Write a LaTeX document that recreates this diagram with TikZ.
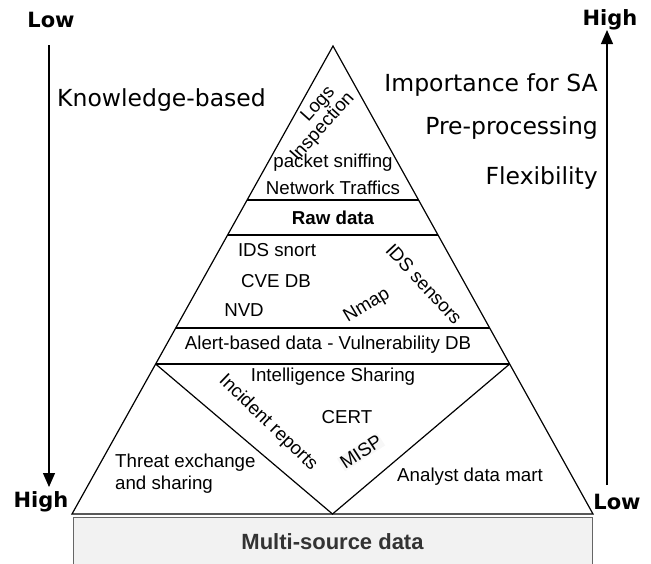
\documentclass[tikz,border=0pt]{standalone}
\usepackage{fontspec}
\setmainfont{Liberation Sans}
\newfontfamily\verd{DejaVu Sans}
\usetikzlibrary{positioning}
\usetikzlibrary{arrows.meta}
\usetikzlibrary{calc}
\tikzstyle{layer}=[font=\fontsize{18.7}{18.5}\selectfont,inner sep=0pt]
\tikzstyle{side}=[font=\verd\fontsize{23.5}{26}\selectfont,inner sep=0pt]
\tikzstyle{grade}=[font=\verd\bfseries\fontsize{21}{24}\selectfont,inner sep=0pt]
\tikzstyle{edge} = [draw,line width=1.2pt]
\tikzstyle{axisarrow} = [draw,line width=1.2pt,-{Triangle[length=14pt,width=12pt]}]

\begin{document}
\begin{tikzpicture}[x=1pt,y=-1pt]
  \useasboundingbox (0,0) rectangle (651,563);

  \def\ytop{46};
  \def\ybase{514};

  % base of the pyramid
  \node[draw=black!60, fill=black!5, line width=1pt, minimum width=519pt, minimum height=50pt, inner sep=0pt,
        font=\bfseries\fontsize{22}{24}\selectfont, text=black!80] (msd) at (332.5,542) {Multi-source data};

  % pyramid
  \coordinate (apex) at (333,\ytop);
  \coordinate (bl) at (72,\ybase);
  \coordinate (br) at (593,\ybase);
  \draw[edge] (apex) -- (bl) -- (br) -- cycle;

  \foreach \t/\name in {0.3291/l1, 0.4038/l2, 0.6026/l3, 0.6795/l4}
         \draw[edge] ($(apex)!\t!(bl)$) coordinate (\name a) -- ($(apex)!\t!(br)$) coordinate (\name b);

  \coordinate (bm) at ($(bl)!0.5!(br)$);
  \draw[edge] (l4a) -- (bm) -- (l4b);

  % texts in the layers
   \foreach \x/\y/\name/\label in {333/163/sniff/packet sniffing, 333/188/traffic/Network Traffics, 277/250/snort/IDS snort,
          276/281/cve/CVE DB, 244/310/nvd/NVD, 328/345/alert/Alert-based data - Vulnerability DB,
          333/377/intel/Intelligence Sharing, 347/417/cert/CERT, 470/477/mart/Analyst data mart}
          \node[layer] (\name) at (\x,\y) {\label};

   \foreach \x/\y/\a/\name/\label in {367/306/31/nmap/Nmap, 424/284/-47/ids/IDS sensors, 268/423/-44/incident/Incident reports}
          \node[layer, rotate=\a] (\name) at (\x,\y) {\label};

  \node[layer, rotate=33, fill=black!3, inner sep=1pt] (misp) at (361,452) {MISP};
  \node[layer, rotate=48, align=center] (logs) at (316,121) {\hspace*{28pt}Logs\\Inspection};
  \node[layer, font=\bfseries\fontsize{18.7}{22}\selectfont] (raw) at (333,218) {Raw data};
  \node[layer, font=\fontsize{18.7}{22}\selectfont, align=left, anchor=west] (threat) at (115,474) {Threat exchange\\and sharing};

  % scales on both sides
  \node[grade] (lowtop) at (51,20) {Low};
  \node[grade] (highbot) at (41,502) {High};
  \node[grade] (hightop) at (610,20) {High};
  \node[grade] (lowbot) at (617,502) {Low};

  \coordinate (ls) at (49,45);
  \coordinate (le) at (49,487);
  \coordinate (rs) at (607,485);
  \coordinate (re) at (607,30);
  \draw[axisarrow] (ls) -- (le);
  \draw[axisarrow] (rs) -- (re);

  \node[side, anchor=west] (kb) at (57,100) {Knowledge-based};
  \foreach \y/\name/\label in {85/imp/Importance for SA, 128/pre/Pre-processing, 178/flex/Flexibility}
          \node[side, anchor=east] (\name) at (598,\y) {\label};

\end{tikzpicture}
\end{document}
